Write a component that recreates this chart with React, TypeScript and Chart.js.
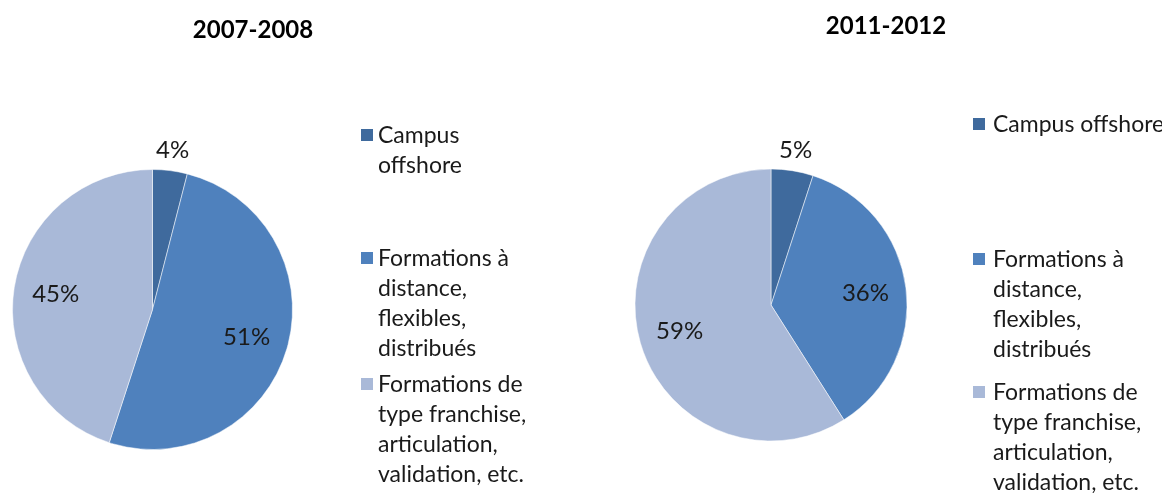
import React, { useEffect, useRef } from "react";
import { Chart, registerables } from "chart.js";

Chart.register(...registerables);

// ---- data ----
const categories = [
  "Campus offshore",
  "Formations à distance, flexibles, distribués",
  "Formations de type franchise, articulation, validation, etc.",
];
const titles = ["2007-2008", "2011-2012"];
const values2007 = [4, 51, 45];
const values2011 = [5, 36, 59];
const legendLines2007 = [
  ["Campus", "offshore"],
  ["Formations à", "distance,", "flexibles,", "distribués"],
  ["Formations de", "type franchise,", "articulation,", "validation, etc."],
];
const legendLines2011 = [
  ["Campus offshore"],
  ["Formations à", "distance,", "flexibles,", "distribués"],
  ["Formations de", "type franchise,", "articulation,", "validation, etc."],
];
const colors = ["#3F6A9D", "#4F81BD", "#A9B9D8"];

const FONT = "Lato, 'Open Sans', sans-serif";
const W = 581;
const H = 493;

type Layout = {
  padding: { left: number; right: number; top: number; bottom: number };
  titleX: number;
  titleY: number;
  squareX: number;
  textX: number;
  baselines: number[];
};

const layout2007: Layout = {
  padding: { left: 12, top: 169, right: 288, bottom: 43 },
  titleX: 253,
  titleY: 38,
  squareX: 361,
  textX: 378,
  baselines: [143, 266, 392],
};
const layout2011: Layout = {
  padding: { left: 53.5, top: 168.5, right: 254.5, bottom: 51.5 },
  titleX: 305,
  titleY: 34,
  squareX: 392,
  textX: 412,
  baselines: [132, 267, 400],
};

function makeDecorPlugin(title: string, lines: string[][], lay: Layout) {
  return {
    id: "decor",
    afterDatasetsDraw(chart: any) {
      const ctx = chart.ctx as CanvasRenderingContext2D;
      ctx.save();
      // title
      ctx.fillStyle = "#000";
      ctx.font = `bold 24px ${FONT}`;
      ctx.textAlign = "center";
      ctx.textBaseline = "alphabetic";
      ctx.fillText(title, lay.titleX, lay.titleY);

      // data labels
      const meta = chart.getDatasetMeta(0);
      const data = chart.data.datasets[0].data as number[];
      ctx.font = `24px ${FONT}`;
      ctx.fillStyle = "#1a1a1a";
      ctx.textAlign = "center";
      ctx.textBaseline = "middle";
      meta.data.forEach((arc: any, i: number) => {
        const p = arc.getProps(["x", "y", "startAngle", "endAngle", "outerRadius"], true);
        const mid = (p.startAngle + p.endAngle) / 2;
        const d = data[i] < 10 ? p.outerRadius + 21 : p.outerRadius * 0.7;
        ctx.fillText(`${data[i]}%`, p.x + Math.cos(mid) * d, p.y + Math.sin(mid) * d);
      });

      // legend
      ctx.textAlign = "left";
      ctx.textBaseline = "alphabetic";
      ctx.font = `23px ${FONT}`;
      lines.forEach((ls, i) => {
        const b = lay.baselines[i];
        ctx.fillStyle = colors[i];
        ctx.fillRect(lay.squareX, b - 14, 12, 12);
        ctx.fillStyle = "#1a1a1a";
        ls.forEach((t, j) => ctx.fillText(t, lay.textX, b + j * 30));
      });
      ctx.restore();
    },
  };
}

function PieChart(props: { values: number[]; title: string; lines: string[][]; lay: Layout; left: number }) {
  const ref = useRef<HTMLCanvasElement | null>(null);
  useEffect(() => {
    if (!ref.current) return;
    const chart = new Chart(ref.current, {
      type: "pie",
      data: {
        labels: categories,
        datasets: [
          {
            data: props.values,
            backgroundColor: colors,
            borderColor: "rgba(255,255,255,0.5)",
            borderWidth: 1,
            hoverOffset: 0,
            offset: 0,
          } as any,
        ],
      },
      options: {
        responsive: false,
        animation: false,
        devicePixelRatio: 1,
        layout: { padding: props.lay.padding },
        plugins: {
          legend: { display: false },
          title: { display: false },
          tooltip: { enabled: false },
        },
        events: [],
      } as any,
      plugins: [makeDecorPlugin(props.title, props.lines, props.lay)],
    });
    return () => chart.destroy();
  }, []);
  return (
    <canvas
      ref={ref}
      width={W}
      height={H}
      style={{ position: "absolute", left: props.left, top: 0, width: W, height: H }}
    />
  );
}

export default function App() {
  return (
    <div style={{ position: "absolute", left: 0, top: 0, width: 1162, height: 493, background: "#fff", overflow: "hidden" }}>
      <PieChart values={values2007} title={titles[0]} lines={legendLines2007} lay={layout2007} left={0} />
      <PieChart values={values2011} title={titles[1]} lines={legendLines2011} lay={layout2011} left={581} />
    </div>
  );
}
